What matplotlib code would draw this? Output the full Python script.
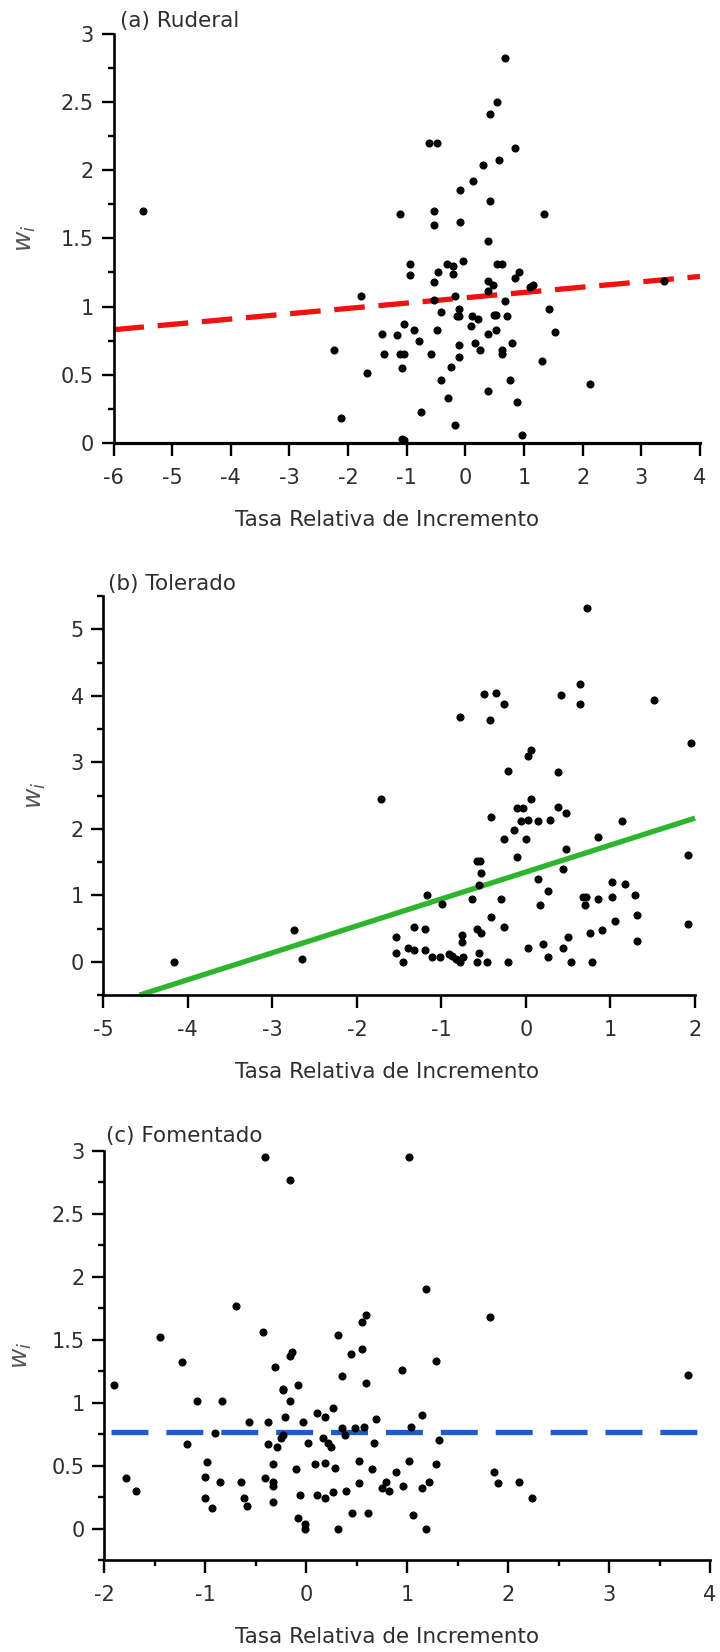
import matplotlib
matplotlib.use("Agg")
import matplotlib.pyplot as plt
import numpy as np
from matplotlib.ticker import MultipleLocator, FuncFormatter

plt.rcParams['font.family'] = ['DejaVu Sans']
plt.rcParams['axes.unicode_minus'] = False

# ---------------- data ----------------
titles = ["(a) Ruderal", "(b) Tolerado", "(c) Fomentado"]
xlabel_text = "Tasa Relativa de Incremento"
ylabel_text = r"$w_i$"

a_x = [-5.49, 0.68, 0.54, 0.42, -0.62, -0.49, 0.84, 0.58, 0.30, 0.13, -0.09, 0.42, -1.12, -0.54,
       -0.54, -0.09, 1.34, 0.38, -0.95, -0.95, -0.32, -0.21, -0.04, -0.47, -0.21, -0.54, 0.54, 0.63,
       0.38, 0.47, 0.38, 0.84, 0.92, 1.10, 1.15, 3.39, -1.78, -0.17, -0.54, 0.67, -0.11, -0.41,
       -0.14, -0.11, 0.11, 0.21, 0.48, 0.52, 0.71, 1.42, 0.09, -1.04, -0.87, -0.49, 0.52, 0.38,
       -1.42, -1.17, -0.79, 0.17, -0.11, 0.80, 1.52, 0.25, 0.63, 0.63, -2.24, -1.39, -1.12, -1.04,
       -0.58, -0.11, 1.30, -0.24, -1.08, -1.67, -0.41, 0.76, 2.12, 0.38, -0.29, 0.88, -0.75, -2.12,
       -0.17, 0.96, -1.08, -1.04]
a_y = [1.70, 2.82, 2.50, 2.41, 2.20, 2.20, 2.16, 2.07, 2.04, 1.92, 1.85, 1.77, 1.68, 1.70,
       1.60, 1.62, 1.68, 1.48, 1.31, 1.23, 1.31, 1.30, 1.33, 1.25, 1.24, 1.18, 1.31, 1.31,
       1.19, 1.16, 1.11, 1.21, 1.25, 1.14, 1.16, 1.19, 1.08, 1.08, 1.05, 1.04, 0.98, 0.96,
       0.93, 0.93, 0.93, 0.91, 0.94, 0.94, 0.93, 0.98, 0.86, 0.87, 0.83, 0.83, 0.83, 0.80,
       0.80, 0.79, 0.75, 0.73, 0.72, 0.73, 0.81, 0.68, 0.68, 0.65, 0.68, 0.65, 0.65, 0.65,
       0.65, 0.63, 0.60, 0.56, 0.55, 0.51, 0.46, 0.46, 0.43, 0.38, 0.33, 0.30, 0.23, 0.18,
       0.13, 0.06, 0.03, 0.02]

b_x = [-4.16, -2.74, -2.65, -1.72, -1.54, -1.54, -1.46, -1.40, -1.33, -1.33, -1.20, -1.20, -1.17,
       -1.11, -1.02, -0.99, -0.91, -0.87, -0.83, -0.78, -0.74, -0.76, -0.76, -0.78, -0.64, -0.58,
       -0.54, -0.53, -0.56, -0.58, -0.53, -0.58, -0.55, -0.46, -0.50, -0.43, -0.35, -0.26, -0.41,
       -0.41, -0.30, -0.26, -0.21, -0.21, -0.26, -0.14, -0.11, -0.11, -0.03, -0.06, 0.03, 0.00,
       0.03, 0.06, 0.06, 0.03, 0.14, 0.14, 0.17, 0.20, 0.26, 0.26, 0.29, 0.38, 0.38, 0.41, 0.47,
       0.47, 0.44, 0.44, 0.50, 0.53, 0.64, 0.64, 0.67, 0.71, 0.70, 0.72, 0.76, 0.78, 0.85, 0.85,
       0.90, 1.02, 1.02, 1.05, 1.14, 1.17, 1.29, 1.31, 1.31, 1.52, 1.95, 1.92, 1.92]
b_y = [0.00, 0.47, 0.035, 2.45, 0.365, 0.13, 0.00, 0.20, 0.17, 0.53, 0.50, 0.17, 1.00,
       0.065, 0.065, 0.87, 0.11, 0.08, 0.04, 0.00, 0.065, 0.40, 0.30, 3.68, 0.94, 1.51,
       1.51, 1.34, 1.15, 0.50, 0.43, 0.00, 0.13, 0.00, 4.02, 3.64, 4.04, 3.88, 2.18,
       0.67, 0.94, 0.53, 0.00, 2.87, 1.84, 1.98, 1.58, 2.31, 2.31, 2.11, 2.13, 1.84,
       3.10, 3.18, 2.44, 0.21, 2.11, 1.24, 0.85, 0.27, 1.07, 0.065, 2.13, 2.85, 2.33, 4.01, 2.24,
       1.70, 1.40, 0.21, 0.37, 0.00, 4.18, 3.88, 0.97, 0.97, 0.85, 5.32, 0.43, 0.00, 0.94, 1.88,
       0.47, 1.20, 0.97, 0.61, 2.11, 1.17, 1.00, 0.71, 0.31, 3.94, 3.29, 1.60, 0.57]

c_x = [-0.41, -0.16, 1.02, 1.19, -0.69, 1.82, 0.59, 0.55, -1.45, -0.43, 0.32, 0.55, 0.45, -0.16,
       -0.14, -1.23, 1.29, -0.31, 0.95, 0.36, 3.78, 0.59, -1.90, -0.23, -0.23, -0.08, -0.16, -1.08,
       -0.83, 0.27, 0.11, 0.19, -0.21, 1.15, 0.69, -0.56, -0.38, -0.03, 0.36, 0.49, 0.57, 1.04,
       -0.90, -0.23, -0.25, 0.39, 0.17, 0.22, 0.25, 0.02, 0.67, 1.32, -1.18, -0.38, -0.29, -0.98,
       -0.33, 0.09, 0.19, 0.52, 1.02, 1.29, -0.10, 0.29, 0.65, 0.89, 1.86, -1.00, -1.78, -0.41,
       -0.85, -0.64, -0.33, -0.33, 0.79, 1.22, 2.11, 0.52, 1.90, 0.96, 0.75, 0.82, 1.15, -1.68,
       0.40, 0.27, -0.06, 0.11, 0.19, -1.00, -0.61, 2.24, -0.33, -0.58, -0.93, 0.46, 0.61, 1.06,
       -0.08, -0.01, -0.01, 0.32, 1.19]
c_y = [2.95, 2.77, 2.95, 1.90, 1.77, 1.68, 1.70, 1.64, 1.52, 1.56, 1.54, 1.43, 1.39, 1.37,
       1.40, 1.32, 1.33, 1.28, 1.26, 1.21, 1.22, 1.16, 1.14, 1.11, 1.10, 1.14, 1.01, 1.01,
       1.01, 0.96, 0.92, 0.89, 0.89, 0.90, 0.87, 0.85, 0.85, 0.85, 0.80, 0.80, 0.81, 0.81,
       0.76, 0.74, 0.72, 0.74, 0.72, 0.68, 0.65, 0.68, 0.68, 0.70, 0.67, 0.67, 0.65, 0.53,
       0.51, 0.51, 0.52, 0.54, 0.54, 0.51, 0.47, 0.48, 0.47, 0.45, 0.45, 0.41, 0.40, 0.40,
       0.37, 0.37, 0.37, 0.34, 0.37, 0.37, 0.37, 0.36, 0.36, 0.34, 0.32, 0.30, 0.32, 0.30,
       0.30, 0.29, 0.27, 0.27, 0.24, 0.24, 0.24, 0.24, 0.21, 0.18, 0.16, 0.12, 0.12, 0.11,
       0.08, 0.04, 0.00, 0.00, 0.00]

# fitted lines: (x range, slope, intercept)
a_line_x = [-6.0, 4.0]
a_slope, a_intercept = 0.039, 1.064
b_line_x = [-4.57, 2.0]
b_slope, b_intercept = 0.405, 1.35
c_line_x = [-1.93, 4.0]
c_slope, c_intercept = 0.0, 0.77

# ---------------- figure ----------------
W, H = 720, 1652
fig = plt.figure(figsize=(W / 100, H / 100), dpi=100)

def fig_axes(left, top, right, bottom):
    return fig.add_axes([left / W, 1 - bottom / H, (right - left) / W, (bottom - top) / H])

ax_a = fig_axes(113.5, 33.5, 700, 443)
ax_b = fig_axes(103.3, 596, 695, 995)
ax_c = fig_axes(104, 1151, 710, 1560)

TXT = '#2e2e2e'
fmt = FuncFormatter(lambda v, p: f'{v:g}')

def style(ax, xlim, ylim, ymaj, ymin, xmin=None, bottom_lw=1.9):
    ax.set_xlim(*xlim)
    ax.set_ylim(*ylim)
    for s in ('top', 'right'):
        ax.spines[s].set_visible(False)
    ax.spines['left'].set_linewidth(1.9)
    ax.spines['bottom'].set_linewidth(bottom_lw)
    for s in ('left', 'bottom'):
        ax.spines[s].set_color('black')
    ax.xaxis.set_major_locator(MultipleLocator(1))
    ax.yaxis.set_major_locator(MultipleLocator(ymaj))
    ax.yaxis.set_minor_locator(MultipleLocator(ymin))
    if xmin:
        ax.xaxis.set_minor_locator(MultipleLocator(xmin))
    ax.xaxis.set_major_formatter(fmt)
    ax.yaxis.set_major_formatter(fmt)
    ax.tick_params(which='major', direction='out', length=9, width=1.7,
                   labelsize=15, labelcolor=TXT, color='black')
    ax.tick_params(which='minor', direction='out', length=4.5, width=1.7, color='black')
    ax.tick_params(axis='x', which='major', pad=9)
    ax.tick_params(axis='y', which='major', pad=5)

def labels(ax, title, title_xy, ylab_xy, xlab_xy):
    fig.text(title_xy[0] / W, 1 - title_xy[1] / H, title, fontsize=15.5, color=TXT,
             ha='left', va='baseline')
    ax.set_xlabel(xlabel_text, fontsize=15.5, color=TXT)
    ax.xaxis.set_label_coords(xlab_xy[0] / W, 1 - xlab_xy[1] / H, transform=fig.transFigure)
    ax.xaxis.label.set_va('center')
    ax.set_ylabel(ylabel_text, fontsize=18, color='#555555')
    ax.yaxis.set_label_coords(ylab_xy[0] / W, 1 - ylab_xy[1] / H, transform=fig.transFigure)
    ax.yaxis.label.set_va('center')

def draw_line(ax, xr, slope, intercept, **kw):
    xs = np.array(xr)
    ax.plot(xs, slope * xs + intercept, zorder=2, solid_capstyle='butt',
            dash_capstyle='butt', clip_on=False, **kw)

DOT = 34

# panel a
style(ax_a, (-6, 4), (0, 3), 0.5, 0.25, bottom_lw=2.3)
draw_line(ax_a, a_line_x, a_slope, a_intercept, color='#f21010', lw=3.8, dashes=(5.8, 2.6))
ax_a.scatter(a_x, a_y, s=DOT, c='black', linewidths=0, zorder=3, clip_on=False)
labels(ax_a, titles[0], (120, 27), (26, 238), (387, 520))

# panel b
style(ax_b, (-5, 2), (-0.5, 5.5), 1, 0.5)
draw_line(ax_b, b_line_x, b_slope, b_intercept, color='#2db52d', lw=3.8)
ax_b.scatter(b_x, b_y, s=DOT, c='black', linewidths=0, zorder=3, clip_on=False)
labels(ax_b, titles[1], (108, 590), (36, 795), (387, 1072))

# panel c
style(ax_c, (-2, 4), (-0.25, 3), 0.5, 0.25, xmin=0.5)
draw_line(ax_c, c_line_x, c_slope, c_intercept, color='#1c5ccc', lw=3.8, dashes=(7.0, 3.4))
ax_c.scatter(c_x, c_y, s=DOT, c='black', linewidths=0, zorder=3, clip_on=False)
labels(ax_c, titles[2], (105.5, 1142), (22, 1355), (387, 1637))

fig.savefig("out.png", dpi=100)
